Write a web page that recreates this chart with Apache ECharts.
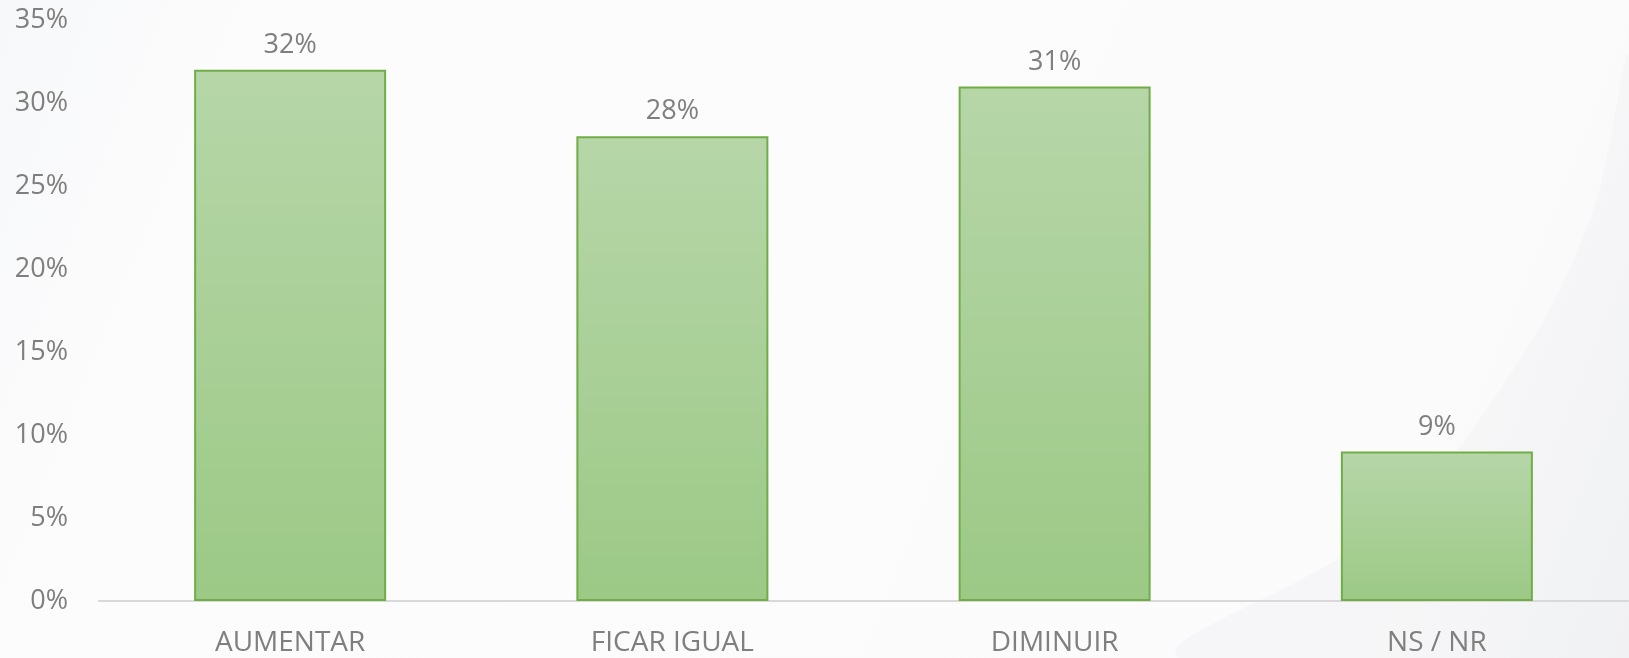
<!DOCTYPE html>
<html>
<head>
<meta charset="utf-8">
<script src="https://cdn.jsdelivr.net/npm/echarts@6/dist/echarts.min.js"></script>
<style>
  html, body { margin: 0; padding: 0; }
  #main { width: 1629px; height: 658px; }
</style>
</head>
<body>
<div id="main"></div>
<script>
var categories = ['AUMENTAR', 'FICAR IGUAL', 'DIMINUIR', 'NS / NR'];
var values = [32, 28, 31, 9];
var yTicks = [0, 5, 10, 15, 20, 25, 30, 35];

var myChart = echarts.init(document.getElementById('main'));
var textGray = '#7f7f7f';
var font = '"Open Sans", "Noto Sans", sans-serif';

myChart.setOption({
  backgroundColor: {
    type: 'linear', x: 0, y: 0, x2: 1, y2: 1,
    colorStops: [
      { offset: 0, color: '#f7f8f9' },
      { offset: 0.15, color: '#fcfcfd' },
      { offset: 0.85, color: '#fbfbfc' },
      { offset: 1, color: '#f4f5f6' }
    ]
  },
  // faint swoosh in the lower right corner
  graphic: [{
    type: 'polygon',
    silent: true,
    z: -1,
    shape: {
      smooth: 0.4,
      points: [[1629, 60], [1590, 220], [1500, 390], [1380, 530], [1180, 658], [1629, 658]]
    },
    style: { fill: 'rgba(225,228,232,0.18)' }
  }],
  grid: { left: 99, right: 1, top: 20, bottom: 57 },
  xAxis: {
    type: 'category',
    data: categories,
    axisLine: { lineStyle: { color: '#d9d9d9', width: 2 } },
    axisTick: { show: false },
    axisLabel: { color: textGray, fontSize: 28, fontFamily: font, margin: 28 }
  },
  yAxis: {
    type: 'value',
    min: yTicks[0],
    max: yTicks[yTicks.length - 1],
    interval: 5,
    splitLine: { show: false },
    axisLine: { show: false },
    axisTick: { show: false },
    axisLabel: {
      color: textGray, fontSize: 27, fontFamily: font, margin: 31,
      padding: [4, 0, 0, 0],
      formatter: '{value}%'
    }
  },
  series: [{
    type: 'bar',
    data: values,
    barWidth: 192,
    itemStyle: {
      color: {
        type: 'linear', x: 0, y: 0, x2: 0, y2: 1,
        colorStops: [
          { offset: 0, color: '#b6d6a8' },
          { offset: 1, color: '#9cc986' }
        ]
      },
      borderColor: '#70ad47',
      borderWidth: 2
    },
    label: {
      show: true,
      position: 'top',
      distance: 11,
      color: textGray,
      fontSize: 27,
      fontFamily: font,
      formatter: '{c}%'
    }
  }]
});
</script>
</body>
</html>
